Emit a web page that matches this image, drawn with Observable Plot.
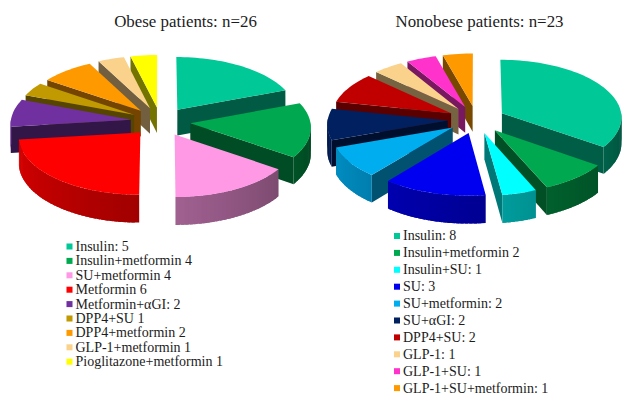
<!DOCTYPE html>
<html><head><meta charset="utf-8">
<script src="https://cdn.jsdelivr.net/npm/d3@7"></script>
<script src="https://cdn.jsdelivr.net/npm/@observablehq/plot@0.6"></script>
<style>html,body{margin:0;padding:0;background:#fff}svg{display:block}</style>
</head><body><div id="chart"></div>
<script>
const obeseTitle = "Obese patients: n=26";
const obeseLabels = ["Insulin: 5","Insulin+metformin 4","SU+metformin 4","Metformin 6","Metformin+αGI: 2","DPP4+SU 1","DPP4+metformin 2","GLP-1+metformin 1","Pioglitazone+metformin 1"];
const obeseValues = [5,4,4,6,2,1,2,1,1];
const obeseColors = ["#00C896","#00A94F","#FF99E6","#FF0000","#7030A0","#C09A00","#FF9900","#FAD28C","#FFFF00"];
const nonobeseTitle = "Nonobese patients: n=23";
const nonobeseLabels = ["Insulin: 8","Insulin+metformin 2","Insulin+SU: 1","SU: 3","SU+metformin: 2","SU+αGI: 2","DPP4+SU: 2","GLP-1: 1","GLP-1+SU: 1","GLP-1+SU+metformin: 1"];
const nonobeseValues = [8,2,1,3,2,2,2,1,1,1];
const nonobeseColors = ["#00C896","#00A94F","#00FFFF","#0000F0","#00AEEF","#002060","#C00000","#FAD28C","#FF33CC","#FF9900"];

const W = 631, H = 406, FONT = "Liberation Serif, Times New Roman, serif";
const shade = (c, m) => { const r = d3.rgb(c); return d3.rgb(r.r*m, r.g*m, r.b*m).formatHex(); };
const rad = d => d * Math.PI / 180;

function pieShapes(values, colors, o) {
  const total = d3.sum(values);
  let acc = 0;
  const wedges = values.map((v, i) => {
    const a0 = acc / total * 360; acc += v; const a1 = acc / total * 360;
    return {i, a0, a1, mid: (a0 + a1) / 2, color: colors[i]};
  }).sort((p, q) => -Math.cos(rad(p.mid)) - -Math.cos(rad(q.mid)));
  const polys = [];
  let id = 0;
  const add = (pts, fill) => { const z = `${o.key}${id++}`; for (const [x, y] of pts) polys.push({x, y, z, fill}); };
  for (const w of wedges) {
    const ox = Math.sin(rad(w.mid)) * o.explode, oy = -Math.cos(rad(w.mid)) * o.explode;
    const P = (a, r, h) => {
      const X = ox + r * Math.sin(rad(a)), Y = oy - r * Math.cos(rad(a)), s = 1 + o.persp * Y;
      return [o.cx + o.R * X * s, o.cy + o.R * o.k * Y * s + h * s];
    };
    const face = a => add([P(a,0,0), P(a,1,0), P(a,1,o.depth), P(a,0,o.depth)], shade(w.color, o.face));
    if (Math.sin(rad(w.a0)) < -1e-6) face(w.a0);
    if (Math.sin(rad(w.a1)) > 1e-6) face(w.a1);
    // Outer wall: overlapping strips, so no seams show.
    const n = Math.ceil((w.a1 - w.a0) / 2);
    for (let j = 0; j < n; j++) {
      const b0 = w.a0 + (w.a1 - w.a0) * j / n, b1 = w.a0 + (w.a1 - w.a0) * (j + 1) / n;
      const m = (b0 + b1) / 2;
      if (Math.cos(rad(m)) > 0.02) continue;
      const t = (m - 90) / 180;
      const e = Math.min(w.a1, b1 + 1.5);
      add([P(b0,1,0), P((b0+e)/2,1,0), P(e,1,0), P(e,1,o.depth), P((b0+e)/2,1,o.depth), P(b0,1,o.depth)], shade(w.color, 0.40 + 0.46 * t));
    }
    const top = [P(w.a0, 0, 0)];
    for (let a = w.a0; a < w.a1; a += 2) top.push(P(a, 1, 0));
    top.push(P(w.a1, 1, 0));
    add(top, w.color);
  }
  return polys;
}

const shapes = [
  ...pieShapes(obeseValues, obeseColors, {key:"o", cx:160, cy:121, R:120, k:.48, explode:.25, persp:.06, depth:26, face:.45}),
  ...pieShapes(nonobeseValues, nonobeseColors, {key:"n", cx:476, cy:119, R:120, k:.48, explode:.24, persp:.06, depth:26, face:.47})
];
const legend = (labels, colors, x, y0, step) => labels.map((label, i) => ({label, color: colors[i], x, y: y0 + i * step}));
const legends = [...legend(obeseLabels, obeseColors, 69, 246, 14.4), ...legend(nonobeseLabels, nonobeseColors, 396.5, 235.5, 16.9)];
const titles = [{t: obeseTitle, x: 185, y: 21}, {t: nonobeseTitle, x: 479, y: 21}];

const chart = Plot.plot({
  width: W, height: H, margin: 0,
  style: {background: "#fff"},
  x: {domain: [0, W], range: [0, W], axis: null},
  y: {domain: [0, H], range: [0, H], axis: null},
  color: {type: "identity"},
  marks: [
    Plot.line(shapes, {x: "x", y: "y", z: "z", fill: "fill", stroke: null, curve: "linear-closed"}),
    Plot.dot(legends, {x: "x", y: "y", symbol: "square", r: 3.4, fill: "color", stroke: null}),
    Plot.text(legends, {x: d => d.x + 6, y: "y", text: "label", textAnchor: "start", fontFamily: FONT, fontSize: 14, fill: "#1c1c1c"}),
    Plot.text(titles, {x: "x", y: "y", text: "t", fontFamily: FONT, fontSize: 16.9, fill: "#1c1c1c"})
  ]
});
document.getElementById("chart").append(chart);
</script></body></html>
